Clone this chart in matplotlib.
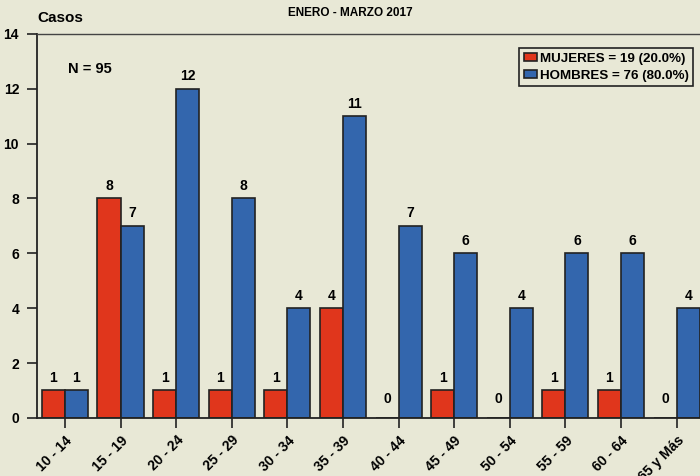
import matplotlib
matplotlib.use('Agg')
import matplotlib.pyplot as plt
import numpy as np

plt.rcParams['font.family'] = ['Liberation Sans', 'DejaVu Sans']
plt.rcParams['font.weight'] = 'bold'

# datos
grupos = ['10 - 14', '15 - 19', '20 - 24', '25 - 29', '30 - 34', '35 - 39',
          '40 - 44', '45 - 49', '50 - 54', '55 - 59', '60 - 64', '65 y Más']
mujeres = [1, 8, 1, 1, 1, 4, 0, 1, 0, 1, 1, 0]
hombres = [1, 7, 12, 8, 4, 11, 7, 6, 4, 6, 6, 4]
lab_muj = 'MUJERES = 19 (20.0%)'
lab_hom = 'HOMBRES = 76 (80.0%)'

fondo = '#e8e8d6'
rojo = '#e0361c'
azul = '#3366ad'
fs = 10

fig = plt.figure(figsize=(7, 4.76), dpi=100, facecolor=fondo)
ax = fig.add_axes([0.053, 0.122, 0.947, 0.807], facecolor=fondo)

x = np.arange(len(grupos))
w = 0.415
ax.bar(x - w/2, mujeres, w, color=rojo, edgecolor='#222222', linewidth=1.2, label=lab_muj)
ax.bar(x + w/2, hombres, w, color=azul, edgecolor='#222222', linewidth=1.2, label=lab_hom)

for xi, v in zip(x, mujeres):
    yv = 0.45 if v == 0 else v + 0.2
    ax.text(xi - w/2, yv, str(v), ha='center', va='bottom', fontsize=fs, fontweight='bold')
for xi, v in zip(x, hombres):
    ax.text(xi + w/2, v + 0.2, str(v), ha='center', va='bottom', fontsize=fs, fontweight='bold')

ax.set_xlim(-0.5, 11.42)
ax.set_ylim(0, 14)
ax.set_yticks(range(0, 15, 2))
ax.set_xticks(x)
ax.set_xticklabels(grupos, rotation=45, ha='right', rotation_mode='anchor', fontsize=fs, fontweight='bold')
ax.tick_params(axis='y', labelsize=fs, length=7, width=1.2, color='#222222', pad=6)
ax.tick_params(axis='x', length=7, width=1.2, color='#222222', pad=4)

ax.spines['right'].set_visible(False)
for s in ['left', 'bottom']:
    ax.spines[s].set_linewidth(1.3)
    ax.spines[s].set_color('#222222')
ax.spines['top'].set_linewidth(1.0)
ax.spines['top'].set_color('#444444')

ax.text(0.45, 12.72, 'N = 95', fontsize=10.5, fontweight='bold', ha='center', va='center')

fig.text(0.5, 0.985, 'ENERO - MARZO 2017', ha='center', va='top', fontsize=8.5, fontweight='bold')
fig.text(0.053, 0.962, 'Casos', ha='left', va='center', fontsize=11, fontweight='bold')

leg = ax.legend(loc='upper right', bbox_to_anchor=(0.99, 0.962), fontsize=9.6, frameon=True,
                fancybox=False, edgecolor='#222222', facecolor=fondo, framealpha=1,
                handlelength=1.0, handleheight=0.55, handletextpad=0.2, borderpad=0.35,
                labelspacing=0.35, borderaxespad=0.0)
leg.get_frame().set_linewidth(1.2)

fig.savefig('out.png', dpi=100, facecolor=fondo)
